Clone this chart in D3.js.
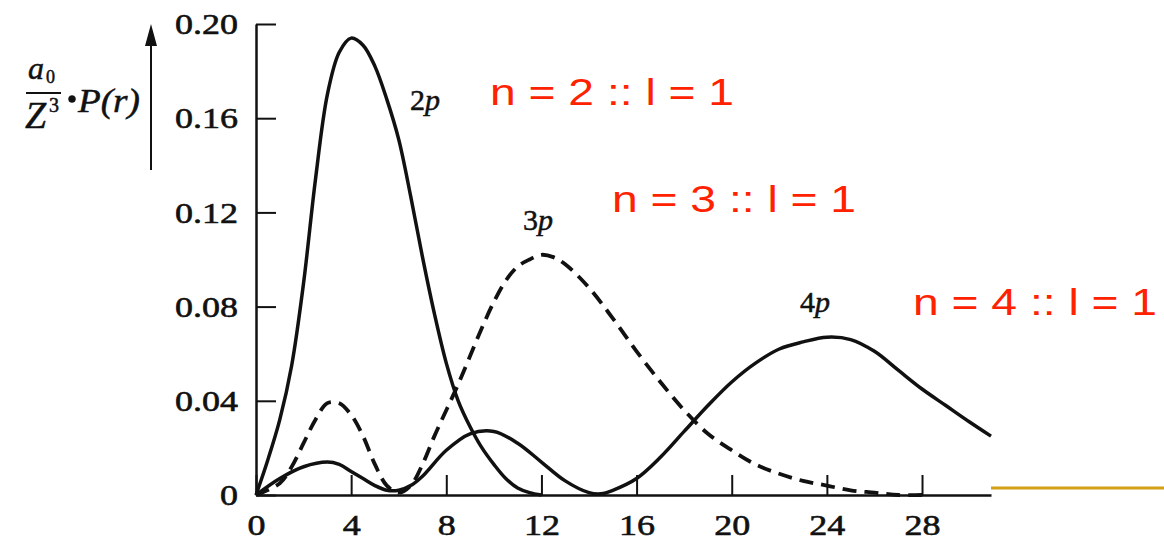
<!DOCTYPE html>
<html><head><meta charset="utf-8">
<script src="https://cdn.jsdelivr.net/npm/d3@7"></script>
<style>body{margin:0;background:#fff} svg{display:block}</style>
</head><body>
<svg id="c" width="1164" height="544"></svg>
<script>
// ---- data ----
const xTicks = [0, 4, 8, 12, 16, 20, 24, 28];
const yTicks = [0, 0.04, 0.08, 0.12, 0.16, 0.20];
const seriesNames = ["2p", "3p", "4p"];
const stateLabels = ["n = 2 :: l = 1", "n = 3 :: l = 1", "n = 4 :: l = 1"];

const r2p = [0,0.5,1,1.5,2,2.5,3,3.5,4,4.5,5,5.5,6,6.5,7,7.5,8,8.5,9,9.5,10,10.5,11,11.5,12];
const p2p = [0,0.015,0.032,0.055,0.090,0.134,0.170,0.188,0.194,0.191,0.182,0.168,0.151,0.127,0.101,0.077,0.056,0.040,0.029,0.020,0.013,0.007,0.003,0.001,0];

const r3p = [0,1,1.5,2,2.5,3,3.5,4,4.5,5,5.5,6,6.5,7,7.5,8,8.5,9,9.5,10,10.5,11,11.5,12,12.5,13,14,15,16,17,18,19,20,21,22,23,24,25,26,27,28];
const p3p = [0,0.005,0.012,0.022,0.032,0.039,0.039,0.034,0.025,0.013,0.004,0.001,0.004,0.013,0.025,0.036,0.047,0.059,0.071,0.082,0.091,0.097,0.100,0.102,0.101,0.098,0.088,0.075,0.061,0.048,0.036,0.026,0.019,0.013,0.009,0.006,0.004,0.002,0.001,0,0];

const r4p = [0,1,2,3,3.5,4,4.5,5,5.5,6,6.5,7,8,9,10,11,12,13,14,14.5,15,16,17,18,19,20,21,22,23,24,25,26,27,28,29,30,30.9];
const p4p = [0,0.007,0.012,0.014,0.013,0.010,0.007,0.004,0.002,0.002,0.004,0.008,0.019,0.026,0.027,0.022,0.014,0.006,0.001,0.0005,0.002,0.007,0.016,0.027,0.038,0.048,0.056,0.062,0.065,0.067,0.066,0.061,0.053,0.045,0.038,0.031,0.025];

// ---- drawing ----
const svg = d3.select("#c");
const x = d3.scaleLinear().domain([0, 30.9]).range([256, 991]);
const y = d3.scaleLinear().domain([0, 0.20]).range([495, 24]);
const ink = "#111";
const serif = "'Liberation Serif', 'DejaVu Serif', serif";

function stretch(sel, k) {
  sel.each(function () {
    const w = this.getComputedTextLength();
    d3.select(this).attr("textLength", w * k).attr("lengthAdjust", "spacingAndGlyphs");
  });
}

// x axis
const gx = svg.append("g").attr("transform", `translate(0,${y(0)})`)
  .call(d3.axisBottom(x).tickValues(xTicks).tickSizeInner(-20).tickSizeOuter(0)
    .tickPadding(19).tickFormat(d3.format("d")));
// y axis
const gy = svg.append("g").attr("transform", `translate(${x(0)},0)`)
  .call(d3.axisLeft(y).tickValues(yTicks).tickSizeInner(-20).tickSizeOuter(0)
    .tickPadding(18).tickFormat(d => d === 0 ? "0" : d.toFixed(2)));

[gx, gy].forEach(g => {
  g.select(".domain").attr("stroke", ink).attr("stroke-width", 2.5);
  g.selectAll(".tick line").attr("stroke", ink).attr("stroke-width", 2);
  g.selectAll(".tick text").attr("fill", ink).attr("stroke", ink).attr("stroke-width", 0.6)
    .style("font-family", serif).style("font-size", "30px");
  stretch(g.selectAll(".tick text"), 1.2);
});

// curves
const line = d3.line().x(d => x(d[0])).y(d => y(d[1])).curve(d3.curveCatmullRom.alpha(0.5));
const series = [
  { name: seriesNames[0], r: r2p, p: p2p, dash: null },
  { name: seriesNames[1], r: r3p, p: p3p, dash: "14,8" },
  { name: seriesNames[2], r: r4p, p: p4p, dash: null }
];
series.forEach(s => {
  svg.append("path").datum(d3.zip(s.r, s.p))
    .attr("d", line).attr("fill", "none").attr("stroke", ink)
    .attr("stroke-width", s.dash ? 3.8 : 3.5)
    .attr("stroke-dasharray", s.dash)
    .attr("stroke-linejoin", "round");
});

// curve labels
const labelPos = [[410, 110], [523, 230], [800, 312]];
series.forEach((s, i) => {
  const t = svg.append("text").attr("x", labelPos[i][0]).attr("y", labelPos[i][1])
    .style("font-family", serif).style("font-size", "30px").attr("fill", ink)
    .attr("stroke", ink).attr("stroke-width", 0.5);
  t.append("tspan").text(s.name[0]);
  t.append("tspan").style("font-style", "italic").text(s.name.slice(1));
});

// red state labels
const statePos = [[490, 105], [612, 212], [913, 315]];
stateLabels.forEach((lab, i) => {
  svg.append("text").attr("x", statePos[i][0]).attr("y", statePos[i][1])
    .style("font-family", "'Liberation Sans', Arial, sans-serif").style("font-size", "37px")
    .attr("fill", "#FF2200").attr("textLength", 244).attr("lengthAdjust", "spacingAndGlyphs")
    .text(lab);
});

// gold rule on the right
svg.append("line").attr("x1", x(30.9)).attr("x2", 1164).attr("y1", 488).attr("y2", 488)
  .attr("stroke", "#D4A016").attr("stroke-width", 3);

// y-axis title with arrow
const ga = svg.append("g");
ga.append("line").attr("x1", 151).attr("x2", 151).attr("y1", 170).attr("y2", 40)
  .attr("stroke", ink).attr("stroke-width", 2);
ga.append("path").attr("d", "M151,24L145,46L157,46Z").attr("fill", ink);

const gt = svg.append("g").style("font-family", serif).attr("fill", ink)
  .attr("stroke", ink).attr("stroke-width", 0.5);
gt.append("text").attr("x", 28).attr("y", 79).style("font-size", "32px").style("font-style", "italic").text("a");
gt.append("text").attr("x", 46).attr("y", 83).style("font-size", "18px").text("0");
gt.append("line").attr("x1", 26).attr("x2", 61).attr("y1", 93).attr("y2", 93).attr("stroke", ink).attr("stroke-width", 2);
gt.append("text").attr("x", 25).attr("y", 128).style("font-size", "38px").style("font-style", "italic").text("Z");
gt.append("text").attr("x", 49).attr("y", 112).style("font-size", "20px").text("3");
gt.append("circle").attr("cx", 72).attr("cy", 99).attr("r", 3.5).attr("fill", ink);
gt.append("text").attr("x", 78).attr("y", 112).style("font-size", "34px").style("font-style", "italic")
  .attr("textLength", 62).attr("lengthAdjust", "spacingAndGlyphs").text("P(r)");
</script>
</body></html>
